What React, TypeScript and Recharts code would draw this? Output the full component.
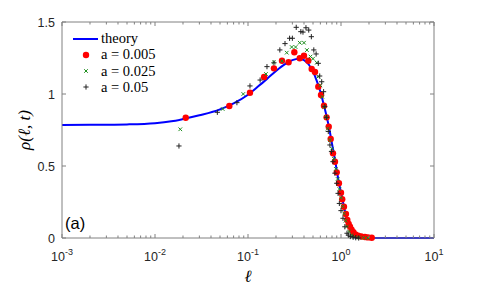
import React from 'react';
import { ComposedChart, Line, Scatter, XAxis, YAxis, Legend, Label } from 'recharts';

// ---- tick data ----
const xMajorTicks = [0.001, 0.01, 0.1, 1, 10];
const xMajorExp = ['-3', '-2', '-1', '0', '1'];
const xMinorTicks = [
  0.002, 0.003, 0.004, 0.005, 0.006, 0.007, 0.008, 0.009,
  0.02, 0.03, 0.04, 0.05, 0.06, 0.07, 0.08, 0.09,
  0.2, 0.3, 0.4, 0.5, 0.6, 0.7, 0.8, 0.9,
  2, 3, 4, 5, 6, 7, 8, 9,
];
const yTicks = [0, 0.5, 1, 1.5];
const yTickLabels = ['0', '0.5', '1', '1.5'];

// ---- series data ----
const theoryL = [0.001, 0.002, 0.005, 0.01, 0.015, 0.02, 0.03, 0.05, 0.07, 0.1, 0.13, 0.16, 0.2, 0.25, 0.3, 0.35, 0.4, 0.45, 0.5, 0.55, 0.6, 0.65, 0.7, 0.75, 0.8, 0.85, 0.9, 0.95, 1.0, 1.05, 1.1, 1.15, 1.2, 1.25, 1.3, 1.35, 1.4, 1.45, 2, 10];
const theoryRho = [0.785, 0.786, 0.789, 0.797, 0.81, 0.826, 0.852, 0.893, 0.935, 0.995, 1.055, 1.105, 1.16, 1.207, 1.235, 1.245, 1.235, 1.205, 1.155, 1.09, 1.015, 0.93, 0.845, 0.755, 0.655, 0.565, 0.47, 0.385, 0.315, 0.25, 0.19, 0.14, 0.095, 0.058, 0.03, 0.012, 0.004, 0, 0, 0];

const a005L = [0.0214, 0.063, 0.105, 0.149, 0.19, 0.232, 0.273, 0.315, 0.36, 0.4, 0.445, 0.484, 0.525, 0.57, 0.61, 0.656, 0.7, 0.738, 0.775, 0.82, 0.861, 0.9, 0.95, 1.0, 1.03, 1.076, 1.13, 1.17, 1.21, 1.25, 1.3, 1.36, 1.43, 1.53, 1.65, 1.81, 1.95, 2.14];
const a005Rho = [0.835, 0.917, 1.009, 1.118, 1.178, 1.231, 1.22, 1.29, 1.248, 1.266, 1.231, 1.174, 1.153, 1.051, 0.993, 0.919, 0.838, 0.773, 0.688, 0.588, 0.53, 0.456, 0.38, 0.315, 0.269, 0.217, 0.167, 0.125, 0.098, 0.079, 0.058, 0.04, 0.025, 0.016, 0.01, 0.007, 0.004, 0.002];

const a025L = [0.0187, 0.0534, 0.089, 0.156, 0.19, 0.232, 0.261, 0.295, 0.325, 0.36, 0.4, 0.43, 0.47, 0.5, 0.55, 0.57, 0.6, 0.63, 0.66, 0.69, 0.72, 0.76, 0.8, 0.84, 0.88, 0.92, 0.96, 1.0, 1.04, 1.08, 1.12, 1.16, 1.22, 1.3, 1.4, 1.55, 1.75, 1.95];
const a025Rho = [0.755, 0.896, 1.0, 1.139, 1.22, 1.229, 1.287, 1.326, 1.326, 1.356, 1.356, 1.305, 1.26, 1.245, 1.217, 1.12, 1.06, 0.98, 0.91, 0.84, 0.76, 0.68, 0.62, 0.55, 0.48, 0.41, 0.34, 0.28, 0.22, 0.17, 0.12, 0.08, 0.045, 0.02, 0.008, 0.003, 0.001, 0];

const a05L = [0.0181, 0.0468, 0.076, 0.105, 0.135, 0.16, 0.19, 0.22, 0.25, 0.28, 0.3, 0.33, 0.37, 0.39, 0.42, 0.45, 0.48, 0.51, 0.54, 0.57, 0.59, 0.62, 0.65, 0.67, 0.7, 0.73, 0.76, 0.79, 0.82, 0.86, 0.9, 0.93, 0.96, 1.0, 1.05, 1.1, 1.16, 1.2, 1.26, 1.35, 1.44, 1.55];
const a05Rho = [0.639, 0.873, 0.94, 1.056, 1.097, 1.19, 1.217, 1.306, 1.35, 1.387, 1.387, 1.463, 1.433, 1.43, 1.46, 1.444, 1.398, 1.306, 1.278, 1.213, 1.125, 1.085, 1.016, 0.912, 0.838, 0.74, 0.646, 0.6, 0.53, 0.45, 0.38, 0.31, 0.24, 0.19, 0.137, 0.078, 0.033, 0.02, 0.01, 0.005, 0.002, 0];

const zip = (xs: number[], ys: number[]) => xs.map((x, i) => ({ x, y: ys[i] }));
const theoryData = zip(theoryL, theoryRho);
const d005 = zip(a005L, a005Rho);
const d025 = zip(a025L, a025Rho);
const d05 = zip(a05L, a05Rho);
const allXTicks = [...xMajorTicks, ...xMinorTicks].sort((a, b) => a - b);

// ---- styles ----
const AXIS = '#808080';
const TXT = '#262626';
const BLUE = '#0000ff';
const RED = '#ff0000';
const GREEN = '#1f8f1f';
const BLACK = '#222222';
const SANS = 'Arial, "Liberation Sans", Helvetica, sans-serif';
const SERIF = '"Liberation Serif", "Times New Roman", serif';

const isMajor = (v: number) => xMajorTicks.indexOf(v);

const BottomTick = (p: any) => {
  const { x, y, payload } = p;
  const idx = isMajor(payload.value);
  return (
    <g>
      <line x1={x} x2={x} y1={y} y2={y - (idx >= 0 ? 4 : 2.5)} stroke={AXIS} strokeWidth={1} />
      {idx >= 0 && (
        <text x={x} y={y + 23} textAnchor="middle" fontFamily={SANS} fontSize={12.5} fill={TXT}>
          10<tspan dy={-6} fontSize={9}>{xMajorExp[idx]}</tspan>
        </text>
      )}
    </g>
  );
};

const TopTick = (p: any) => {
  const { x, y, payload } = p;
  const idx = isMajor(payload.value);
  return <line x1={x} x2={x} y1={y} y2={y + (idx >= 0 ? 4 : 2.5)} stroke={AXIS} strokeWidth={1} />;
};

const LeftTick = (p: any) => {
  const { x, y, payload } = p;
  const idx = yTicks.indexOf(payload.value);
  return (
    <g>
      <line x1={x} x2={x + 4} y1={y} y2={y} stroke={AXIS} strokeWidth={1} />
      <text x={x - 7} y={y + 4.8} textAnchor="end" fontFamily={SANS} fontSize={12.5} fill={TXT}>
        {yTickLabels[idx]}
      </text>
    </g>
  );
};

const RightTick = (p: any) => {
  const { x, y } = p;
  return <line x1={x} x2={x - 4} y1={y} y2={y} stroke={AXIS} strokeWidth={1} />;
};

const RedDot = (p: any) => <circle cx={p.cx} cy={p.cy} r={3.2} fill={RED} />;
const GreenX = (p: any) => (
  <path
    d={`M${p.cx - 1.8},${p.cy - 1.8}L${p.cx + 1.8},${p.cy + 1.8}M${p.cx - 1.8},${p.cy + 1.8}L${p.cx + 1.8},${p.cy - 1.8}`}
    stroke={GREEN}
    strokeWidth={1}
    fill="none"
  />
);
const BlackPlus = (p: any) => (
  <path
    d={`M${p.cx - 2.6},${p.cy}H${p.cx + 2.6}M${p.cx},${p.cy - 2.6}V${p.cy + 2.6}`}
    stroke={BLACK}
    strokeWidth={1}
    fill="none"
  />
);

const LegendBox = () => (
  <svg width={130} height={70} style={{ display: 'block', overflow: 'visible' }}>
    <line x1={7} x2={32} y1={9} y2={9} stroke={BLUE} strokeWidth={2} />
    <text x={35} y={13} fontFamily={SERIF} fontSize={14.5} fill="#000">theory</text>
    <circle cx={20} cy={25} r={3.2} fill={RED} />
    <text x={35} y={28.5} fontFamily={SERIF} fontSize={14.5} fill="#000">a = 0.005</text>
    <path d="M18.2,39.2L21.8,42.8M18.2,42.8L21.8,39.2" stroke={GREEN} strokeWidth={1} fill="none" />
    <text x={35} y={45.5} fontFamily={SERIF} fontSize={14.5} fill="#000">a = 0.025</text>
    <path d="M17.4,57H22.6M20,54.4V59.6" stroke={BLACK} strokeWidth={1} fill="none" />
    <text x={35} y={61.5} fontFamily={SERIF} fontSize={14.5} fill="#000">a = 0.05</text>
  </svg>
);

export default function App() {
  return (
    <div style={{ position: 'absolute', left: 0, top: 0, width: 480, height: 288, background: '#fff' }}>
      <ComposedChart width={480} height={288} margin={{ top: 21, right: 45, bottom: 20, left: 22 }}>
        <XAxis
          xAxisId="b"
          dataKey="x"
          type="number"
          scale="log"
          domain={[0.001, 10]}
          allowDataOverflow
          ticks={allXTicks}
          interval={0}
          tickSize={0}
          tickMargin={0}
          tickLine={false}
          axisLine={{ stroke: AXIS }}
          height={30}
          orientation="bottom"
          tick={<BottomTick />}
        >
          <Label
            content={() => (
              <text x={248} y={282} textAnchor="middle" fontFamily={SERIF} fontStyle="italic" fontSize={17} fill="#000">
                ℓ
              </text>
            )}
          />
        </XAxis>
        <XAxis
          xAxisId="t"
          dataKey="x"
          type="number"
          scale="log"
          domain={[0.001, 10]}
          allowDataOverflow
          ticks={allXTicks}
          interval={0}
          tickSize={0}
          tickMargin={0}
          tickLine={false}
          axisLine={{ stroke: AXIS }}
          height={1}
          orientation="top"
          tick={<TopTick />}
        >
          <Label
            content={() => (
              <text x={65} y={229} fontFamily={SANS} fontSize={16.5} fill="#000">
                (a)
              </text>
            )}
          />
        </XAxis>
        <YAxis
          yAxisId="l"
          type="number"
          domain={[0, 1.5]}
          ticks={yTicks}
          interval={0}
          tickSize={0}
          tickMargin={0}
          tickLine={false}
          axisLine={{ stroke: AXIS }}
          width={40}
          orientation="left"
          tick={<LeftTick />}
        >
          <Label
            content={() => (
              <text
                x={30}
                y={130}
                transform="rotate(-90, 30, 130)"
                textAnchor="middle"
                fontFamily={SERIF}
                fontStyle="italic"
                fontSize={17}
                fill="#000"
              >
                ρ(ℓ, t)
              </text>
            )}
          />
        </YAxis>
        <YAxis
          yAxisId="r"
          type="number"
          domain={[0, 1.5]}
          ticks={yTicks}
          interval={0}
          tickSize={0}
          tickMargin={0}
          tickLine={false}
          axisLine={{ stroke: AXIS }}
          width={1}
          orientation="right"
          tick={<RightTick />}
        />
        <Legend
          layout="vertical"
          align="center"
          verticalAlign="middle"
          content={() => <LegendBox />}
          wrapperStyle={{ position: 'absolute', left: 66, top: 30, width: 130, height: 70 }}
        />
        <Line
          xAxisId="t"
          yAxisId="r"
          data={theoryData}
          dataKey="y"
          stroke="none"
          strokeWidth={0}
          dot={false}
          activeDot={false}
          legendType="none"
          isAnimationActive={false}
        />
        <Line
          xAxisId="b"
          yAxisId="l"
          data={theoryData}
          dataKey="y"
          type="monotone"
          stroke={BLUE}
          strokeWidth={2}
          dot={false}
          activeDot={false}
          isAnimationActive={false}
          name="theory"
        />
        <Scatter xAxisId="b" yAxisId="l" data={d005} dataKey="y" shape={RedDot} isAnimationActive={false} name="a = 0.005" />
        <Scatter xAxisId="b" yAxisId="l" data={d025} dataKey="y" shape={GreenX} isAnimationActive={false} name="a = 0.025" />
        <Scatter xAxisId="b" yAxisId="l" data={d05} dataKey="y" shape={BlackPlus} isAnimationActive={false} name="a = 0.05" />
      </ComposedChart>
    </div>
  );
}
